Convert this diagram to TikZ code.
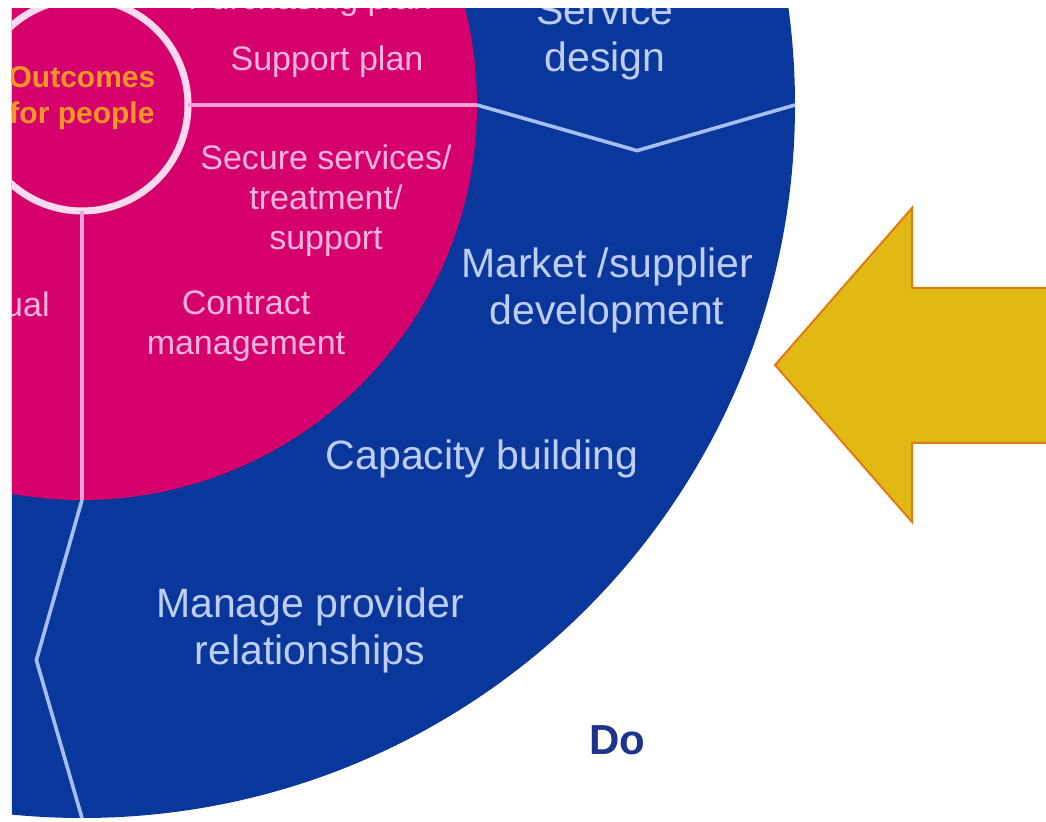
\documentclass[tikz,border=0pt]{standalone}
\usepackage{fontspec}
\setmainfont{Liberation Sans}
\usepackage{xcolor}
\usetikzlibrary{positioning}

\definecolor{ringblue}{RGB}{10,55,155}
\definecolor{ringpink}{RGB}{214,0,108}
\definecolor{pinktext}{RGB}{250,182,222}
\definecolor{bluetext}{RGB}{190,206,245}
\definecolor{pinkline}{RGB}{250,160,212}
\definecolor{blueline}{RGB}{165,192,240}
\definecolor{hubring}{RGB}{252,218,238}
\definecolor{hubtext}{RGB}{246,150,36}
\definecolor{dotext}{RGB}{28,52,140}
\definecolor{arrowfill}{RGB}{224,185,20}
\definecolor{arrowline}{RGB}{224,122,18}

\tikzset{
	pinklabel/.style={text=pinktext,font=\fontsize{17}{20}\selectfont,align=center,anchor=base},
	bluelabel/.style={text=bluetext,font=\fontsize{20.5}{23.5}\selectfont,align=center,anchor=base},
}

\begin{document}
\begin{tikzpicture}[x=0.5pt,y=0.5pt]
	\useasboundingbox (-82,-717) rectangle (964,105);
	\fill[white] (-82,-717) rectangle (964,105);
	\clip (-70,-717) rectangle (964,96);
		%Rings
			\coordinate (hub) at (0,0);
			\fill[ringblue] (hub) circle (713);
			\fill[ringpink] (hub) circle (395);
			\draw[hubring,line width=3.5pt] (hub) circle (106);
		%Dividers
			\foreach \a in {0,-90}
			{
				\draw[pinkline,line width=2.2pt] (\a:106) -- (\a:395);
				\draw[blueline,line width=1.8pt] (\a:395) -- ({\a-4.7}:557) -- (\a:713);
			}
		%Centre (base is the last line)
			\node[text=hubtext,font=\bfseries\fontsize{15}{18}\selectfont,align=center,anchor=base] (outcomes) at (0,-19) {Outcomes\\for people};
		%Inner ring
			\node[pinklabel] (purchasing) at (228,95) {Purchasing plan};
			\node[pinklabel] (support) at (245,34) {Support plan};
			\node[pinklabel] (secure) at (244,-145) {Secure services/\\treatment/\\support};
			\node[pinklabel] (contract) at (164,-250) {Contract\\management};
			\node[pinklabel,anchor=base east,inner sep=0pt] (individual) at (-32,-212) {ual};
		%Outer ring
			\node[bluelabel] (service) at (523,33) {Service\\design};
			\node[bluelabel] (market) at (525,-220) {Market /supplier\\development};
			\node[bluelabel] (capacity) at (400,-365) {Capacity building};
			\node[bluelabel] (manage) at (228,-560) {Manage provider\\relationships};
			\node[text=dotext,font=\bfseries\fontsize{21}{24}\selectfont,anchor=base] (do) at (535,-650) {Do};
		%Arrow
			\draw[arrowline,fill=arrowfill,line width=1pt] (693,-260) -- (830,-103) -- (830,-183) -- (980,-183)
				-- (980,-338) -- (830,-338) -- (830,-417) -- cycle;
\end{tikzpicture}
\end{document}
